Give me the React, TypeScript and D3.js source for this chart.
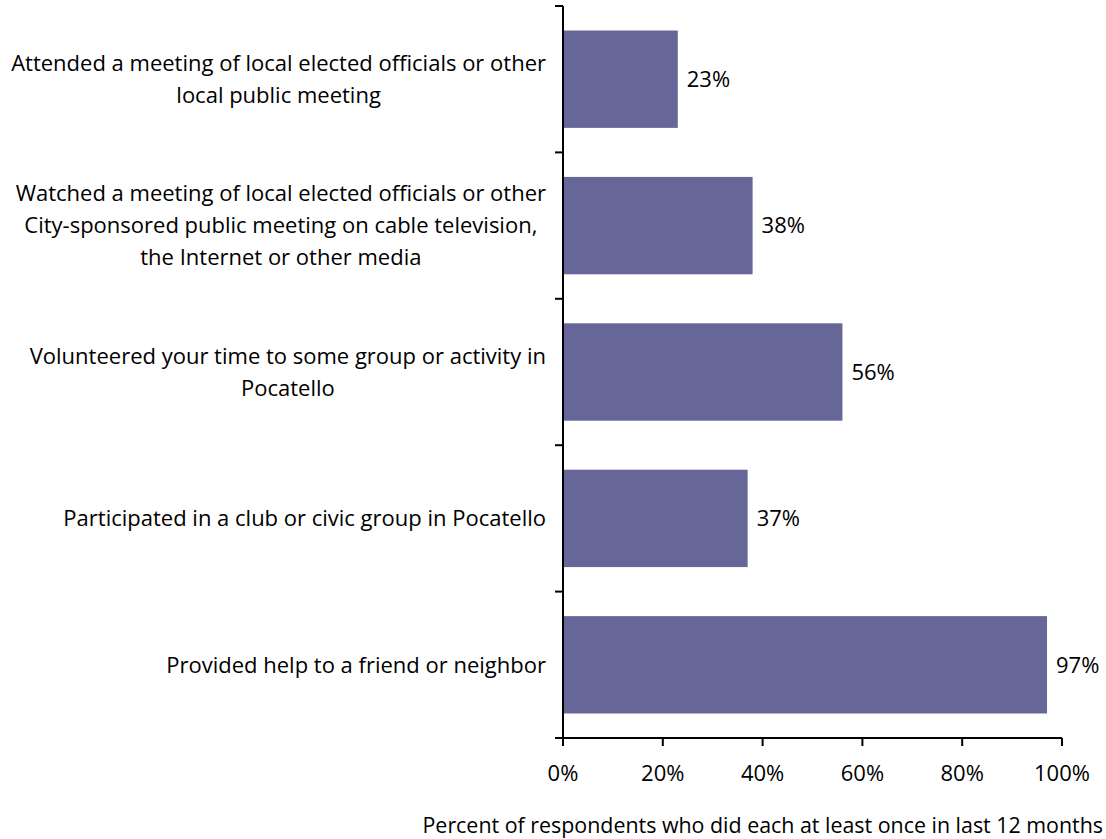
import React, { useEffect, useRef } from "react";
import * as d3 from "d3";

const categories: string[][] = [
  ["Attended a meeting of local elected officials or other", "local public meeting"],
  ["Watched a meeting of local elected officials or other", "City-sponsored public meeting on cable television,", "the Internet or other media"],
  ["Volunteered your time to some group or activity in", "Pocatello"],
  ["Participated in a club or civic group in Pocatello"],
  ["Provided help to a friend or neighbor"],
];
const values: number[] = [23, 38, 56, 37, 97];
const xTicks: number[] = [0, 20, 40, 60, 80, 100];
const axisTitle = "Percent of respondents who did each at least once in last 12 months";

const W = 1106;
const H = 839;
const FONT = "'Open Sans', 'Noto Sans', sans-serif";
const FS = 22;

export default function App() {
  const ref = useRef<SVGSVGElement>(null);

  useEffect(() => {
    const svg = d3.select(ref.current);
    svg.selectAll("*").remove();

    const x = d3.scaleLinear().domain([0, 100]).range([563, 1062]);
    const y = d3
      .scaleBand<number>()
      .domain(d3.range(categories.length))
      .range([6, 738])
      .paddingInner(0.335)
      .paddingOuter(0.1675);

    const g = svg.append("g");

    g.selectAll("rect.bar")
      .data(values)
      .join("rect")
      .attr("class", "bar")
      .attr("x", x(0) + 1)
      .attr("y", (_d, i) => y(i)!)
      .attr("width", (d) => x(d) - x(0) - 1)
      .attr("height", y.bandwidth())
      .attr("fill", "#666699");

    g.selectAll("text.val")
      .data(values)
      .join("text")
      .attr("class", "val")
      .attr("x", (d) => x(d) + 9)
      .attr("y", (_d, i) => y(i)! + y.bandwidth() / 2)
      .attr("dy", "0.35em")
      .attr("font-family", FONT)
      .attr("font-size", FS)
      .attr("fill", "#000")
      .text((d) => `${d}%`);

    const yTicksPos = d3.range(categories.length + 1).map((i) => 6 + i * (732 / categories.length));
    g.append("line")
      .attr("x1", x(0))
      .attr("x2", x(0))
      .attr("y1", 6)
      .attr("y2", 738)
      .attr("stroke", "#000")
      .attr("stroke-width", 2);
    g.selectAll("line.ytick")
      .data(yTicksPos)
      .join("line")
      .attr("class", "ytick")
      .attr("x1", x(0) - 8)
      .attr("x2", x(0))
      .attr("y1", (d) => d)
      .attr("y2", (d) => d)
      .attr("stroke", "#000")
      .attr("stroke-width", 2);

    g.append("line")
      .attr("x1", x(0) - 8)
      .attr("x2", x(100))
      .attr("y1", 738)
      .attr("y2", 738)
      .attr("stroke", "#000")
      .attr("stroke-width", 2);
    g.selectAll("line.xtick")
      .data(xTicks)
      .join("line")
      .attr("class", "xtick")
      .attr("x1", (d) => x(d))
      .attr("x2", (d) => x(d))
      .attr("y1", 738)
      .attr("y2", 746)
      .attr("stroke", "#000")
      .attr("stroke-width", 2);
    g.selectAll("text.xt")
      .data(xTicks)
      .join("text")
      .attr("class", "xt")
      .attr("x", (d) => x(d))
      .attr("y", 773)
      .attr("dy", "0.35em")
      .attr("text-anchor", "middle")
      .attr("font-family", FONT)
      .attr("font-size", FS)
      .text((d) => `${d}%`);

    g.append("text")
      .attr("x", 1103)
      .attr("y", 826)
      .attr("dy", "0.35em")
      .attr("text-anchor", "end")
      .attr("font-family", FONT)
      .attr("font-size", 21.4)
      .text(axisTitle);

    const lineH = 32;
    categories.forEach((lines, i) => {
      const cy = y(i)! + y.bandwidth() / 2;
      const tg = g.append("g");
      const texts = lines.map((ln, j) =>
        tg
          .append("text")
          .attr("y", cy + (j - (lines.length - 1) / 2) * lineH)
          .attr("dy", "0.35em")
          .attr("text-anchor", "middle")
          .attr("font-family", FONT)
          .attr("font-size", FS)
          .text(ln)
      );
      const widths = texts.map((t) => (t.node() as SVGTextElement).getComputedTextLength());
      const maxW = Math.max(...widths);
      const center = 546 - maxW / 2;
      texts.forEach((t) => t.attr("x", center));
    });
  }, []);

  return <svg ref={ref} width={W} height={H} style={{ display: "block", position: "absolute", left: 0, top: 0 }} />;
}
